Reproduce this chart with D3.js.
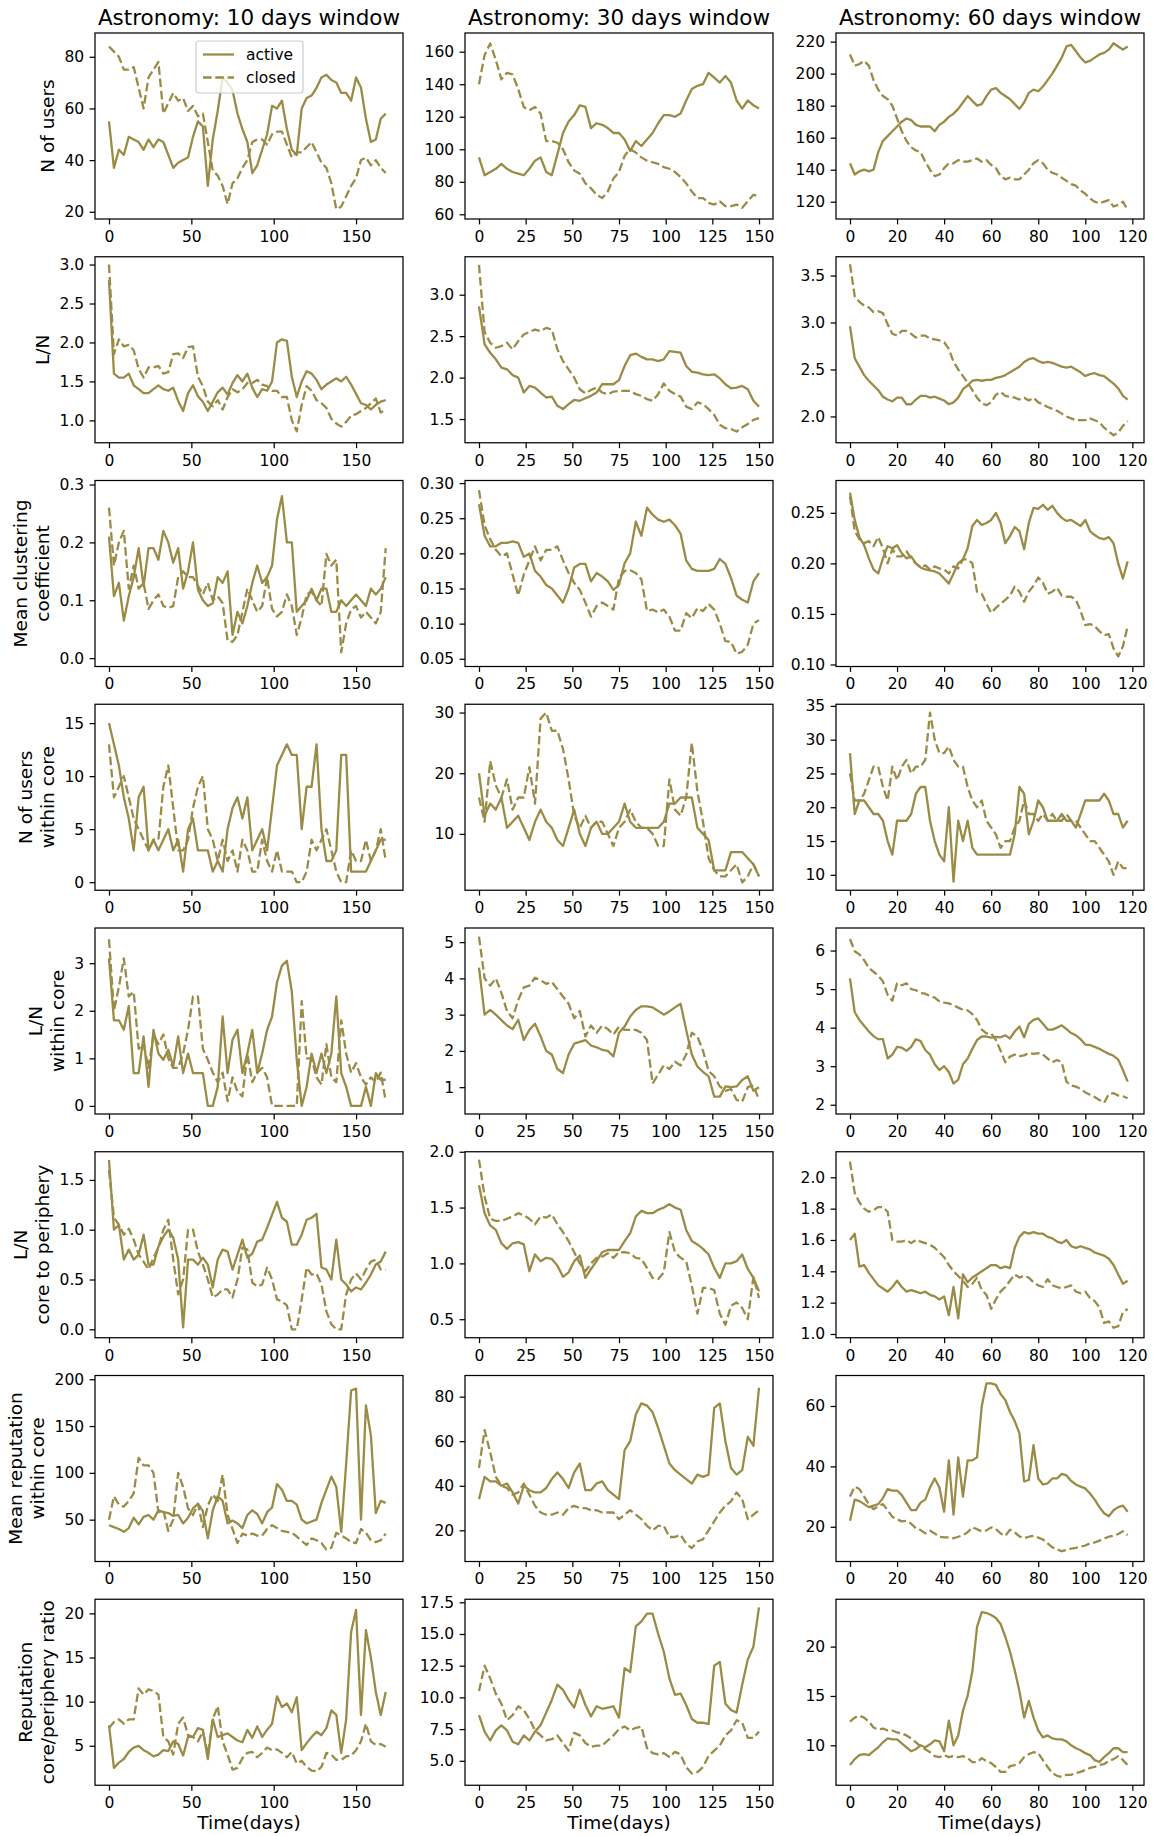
<!DOCTYPE html>
<html>
<head>
<meta charset="utf-8">
<script src="https://cdn.jsdelivr.net/npm/d3@7"></script>
<style>
  html, body { margin: 0; padding: 0; background: #ffffff; }
  svg text { font-family: "DejaVu Sans", sans-serif; }
</style>
</head>
<body>
<svg id="chart" width="1155" height="1836"></svg>
<script>
// ---------------------------------------------------------------
// Sample days for each sliding-window length
// ---------------------------------------------------------------
const days10 = [0,3,6,9,12,15,18,21,24,27,30,33,36,39,42,45,48,51,54,57,60,63,66,69,72,75,78,81,84,87,90,93,96,99,102,105,108,111,114,117,120,123,126,129,132,135,138,141,144,147,150,153,156,159,162,165,168];
const days30 = [0,3,6,9,12,15,18,21,24,27,30,33,36,39,42,45,48,51,54,57,60,63,66,69,72,75,78,81,84,87,90,93,96,99,102,105,108,111,114,117,120,123,126,129,132,135,138,141,144,147,150];
const days60 = [0,2,4,6,8,10,12,14,16,18,20,22,24,26,28,30,32,34,36,38,40,42,44,46,48,50,52,54,56,58,60,62,64,66,68,70,72,74,76,78,80,82,84,86,88,90,92,94,96,98,100,102,104,106,108,110,112,114,116,118];

const windowTitles = ["Astronomy: 10 days window", "Astronomy: 30 days window", "Astronomy: 60 days window"];
const seriesNames = ["active", "closed"];
const xTickLabels = [
  ["0","50","100","150"],
  ["0","25","50","75","100","125","150"],
  ["0","20","40","60","80","100","120"]
];
const xAxisTitle = "Time(days)";

// ---------------------------------------------------------------
// N of users
// ---------------------------------------------------------------
const usersActive10 = [55,37,44,42,49,48,47,44,48,45,48,47,42,37,39,40,41,49,55,53,30,48,59,72,70,67,58,52,47,35,38,44,50,61,60,63,52,44,42,60,64,65,68,72,73,71,70,66,66,63,72,68,56,47,48,56,58];
const usersClosed10 = [84,82,80,75,75,76,68,60,72,75,78,58,62,66,63,64,59,61,57,58,47,36,34,30,23,31,33,37,40,47,48,48,46,50,51,51,46,41,43,43,45,47,43,39,37,31,21,22,26,30,33,40,41,38,40,37,35];
const usersActive30 = [95,84,86,88,91,88,86,85,84,88,93,95,86,84,97,110,117,121,127,126,113,116,115,113,110,110,106,99,105,102,106,110,116,121,121,120,122,130,137,139,140,147,144,141,145,141,130,125,130,127,125];
const usersClosed30 = [140,158,165,155,143,147,146,137,126,124,126,122,105,105,104,100,92,87,85,79,76,72,70,74,82,86,96,100,98,95,93,92,91,89,88,86,83,79,74,70,70,67,66,68,65,65,66,64,68,72,71];
const usersActive60 = [144,137,139,140,139,140,151,158,161,164,167,170,172,171,168,167,167,167,164,168,170,173,175,178,182,186,183,180,181,186,190,191,188,186,184,181,178,182,188,190,189,192,196,200,205,210,217,218,214,210,207,208,210,212,213,215,219,217,215,217];
const usersClosed60 = [212,205,206,208,205,196,190,186,184,180,172,164,158,154,152,151,145,140,136,137,141,144,144,146,145,145,146,147,145,146,143,141,136,134,135,134,134,137,140,144,146,144,140,138,137,135,133,131,130,127,125,122,120,119,120,121,117,118,120,115];
const usersTicks = [["20","40","60","80"], ["60","80","100","120","140","160"], ["120","140","160","180","200","220"]];

// ---------------------------------------------------------------
// L/N
// ---------------------------------------------------------------
const linksActive10 = [2.8,1.6,1.55,1.55,1.6,1.45,1.4,1.35,1.35,1.4,1.45,1.4,1.38,1.42,1.25,1.12,1.35,1.45,1.31,1.24,1.12,1.24,1.36,1.42,1.33,1.48,1.58,1.5,1.6,1.42,1.3,1.4,1.38,1.5,2.0,2.04,2.02,1.56,1.3,1.5,1.63,1.6,1.52,1.4,1.46,1.5,1.54,1.5,1.56,1.46,1.34,1.22,1.2,1.14,1.2,1.24,1.26];
const linksClosed10 = [3.0,1.85,2.04,1.95,1.97,1.9,1.66,1.55,1.68,1.68,1.7,1.6,1.62,1.85,1.86,1.8,1.94,1.95,1.56,1.44,1.24,1.18,1.26,1.14,1.3,1.4,1.36,1.4,1.48,1.48,1.52,1.46,1.44,1.38,1.38,1.3,1.3,1.0,0.86,1.2,1.44,1.38,1.26,1.22,1.16,1.02,0.96,0.92,0.98,1.06,1.08,1.12,1.16,1.22,1.28,1.1,1.14];
const linksActive30 = [2.86,2.4,2.3,2.22,2.12,2.1,2.03,2.0,1.82,1.9,1.88,1.82,1.76,1.77,1.66,1.62,1.68,1.73,1.72,1.75,1.78,1.82,1.92,1.92,1.92,1.97,2.14,2.27,2.29,2.25,2.22,2.22,2.2,2.22,2.32,2.31,2.3,2.14,2.07,2.06,2.04,2.03,2.04,1.99,1.92,1.87,1.88,1.9,1.86,1.72,1.65];
const linksClosed30 = [3.36,2.55,2.42,2.36,2.38,2.42,2.34,2.44,2.52,2.55,2.58,2.56,2.6,2.58,2.34,2.2,2.1,2.0,1.86,1.81,1.85,1.88,1.82,1.8,1.83,1.84,1.84,1.84,1.8,1.78,1.74,1.72,1.8,1.93,1.84,1.8,1.77,1.65,1.62,1.7,1.68,1.62,1.55,1.43,1.39,1.38,1.35,1.4,1.44,1.49,1.51];
const linksActive60 = [2.96,2.62,2.53,2.44,2.38,2.33,2.28,2.21,2.18,2.16,2.2,2.2,2.13,2.13,2.18,2.22,2.22,2.2,2.21,2.19,2.17,2.13,2.15,2.2,2.29,2.33,2.38,2.39,2.38,2.39,2.39,2.41,2.42,2.44,2.47,2.5,2.53,2.58,2.61,2.62,2.59,2.57,2.58,2.57,2.55,2.53,2.52,2.53,2.5,2.47,2.43,2.45,2.46,2.44,2.43,2.39,2.35,2.3,2.22,2.18];
const linksClosed60 = [3.62,3.28,3.22,3.18,3.16,3.11,3.12,3.1,2.98,2.88,2.86,2.91,2.91,2.88,2.84,2.86,2.86,2.83,2.82,2.81,2.79,2.72,2.58,2.5,2.43,2.36,2.28,2.2,2.14,2.12,2.15,2.23,2.26,2.22,2.21,2.2,2.18,2.2,2.17,2.2,2.15,2.13,2.1,2.08,2.06,2.03,2.0,1.98,1.96,1.96,1.96,1.98,1.96,1.94,1.88,1.84,1.8,1.83,1.9,1.95];
const linksTicks = [["1.0","1.5","2.0","2.5","3.0"], ["1.5","2.0","2.5","3.0"], ["2.0","2.5","3.0","3.5"]];

// ---------------------------------------------------------------
// Mean clustering coefficient
// ---------------------------------------------------------------
const clusterActive10 = [0.21,0.107,0.13,0.065,0.107,0.14,0.19,0.124,0.19,0.19,0.17,0.22,0.2,0.165,0.19,0.12,0.15,0.2,0.118,0.1,0.09,0.095,0.14,0.13,0.15,0.04,0.08,0.06,0.09,0.13,0.16,0.13,0.14,0.16,0.24,0.28,0.2,0.2,0.08,0.09,0.1,0.12,0.1,0.12,0.12,0.08,0.08,0.1,0.09,0.1,0.11,0.1,0.09,0.12,0.11,0.12,0.14];
const clusterClosed10 = [0.26,0.16,0.2,0.22,0.12,0.16,0.12,0.13,0.085,0.1,0.11,0.09,0.087,0.09,0.14,0.15,0.14,0.14,0.125,0.11,0.13,0.1,0.107,0.095,0.03,0.028,0.04,0.08,0.12,0.1,0.08,0.09,0.14,0.085,0.072,0.08,0.11,0.09,0.04,0.07,0.11,0.115,0.1,0.09,0.18,0.16,0.17,0.01,0.06,0.084,0.09,0.07,0.08,0.07,0.06,0.08,0.19];
const clusterActive30 = [0.27,0.225,0.21,0.21,0.215,0.215,0.217,0.215,0.195,0.2,0.175,0.167,0.155,0.15,0.14,0.13,0.15,0.18,0.185,0.185,0.16,0.172,0.167,0.16,0.148,0.155,0.186,0.2,0.245,0.225,0.265,0.255,0.248,0.245,0.248,0.24,0.228,0.19,0.178,0.175,0.175,0.175,0.178,0.192,0.185,0.165,0.14,0.134,0.13,0.16,0.172];
const clusterClosed30 = [0.29,0.24,0.22,0.205,0.196,0.2,0.17,0.14,0.17,0.19,0.21,0.19,0.205,0.205,0.21,0.19,0.172,0.158,0.148,0.13,0.11,0.125,0.13,0.125,0.12,0.165,0.175,0.176,0.172,0.163,0.118,0.12,0.116,0.12,0.11,0.09,0.09,0.115,0.108,0.122,0.118,0.128,0.12,0.1,0.075,0.074,0.057,0.06,0.07,0.1,0.105];
const clusterActive60 = [0.27,0.243,0.226,0.218,0.205,0.194,0.19,0.205,0.217,0.215,0.218,0.21,0.205,0.207,0.2,0.196,0.194,0.193,0.192,0.19,0.185,0.18,0.19,0.2,0.204,0.215,0.237,0.243,0.238,0.24,0.243,0.25,0.24,0.22,0.227,0.236,0.232,0.214,0.24,0.255,0.254,0.258,0.253,0.257,0.25,0.245,0.242,0.243,0.24,0.237,0.243,0.232,0.228,0.225,0.224,0.226,0.22,0.2,0.185,0.202];
const clusterClosed60 = [0.266,0.232,0.224,0.22,0.222,0.217,0.226,0.215,0.2,0.214,0.207,0.207,0.212,0.205,0.2,0.196,0.198,0.194,0.197,0.195,0.194,0.19,0.197,0.195,0.204,0.204,0.2,0.172,0.17,0.16,0.151,0.156,0.16,0.164,0.168,0.177,0.172,0.162,0.172,0.178,0.186,0.181,0.17,0.172,0.176,0.168,0.167,0.167,0.164,0.153,0.139,0.14,0.138,0.133,0.129,0.13,0.116,0.108,0.118,0.138];
const clusterTicks = [["0.0","0.1","0.2","0.3"], ["0.05","0.10","0.15","0.20","0.25","0.30"], ["0.10","0.15","0.20","0.25"]];

// ---------------------------------------------------------------
// N of users within core
// ---------------------------------------------------------------
const coreUsersActive10 = [15,13,11,8,6,3,8,9,3,4,3,4,5,3,4,1,5,6,3,3,3,1,2,1,5,7,8,6,8,3,4,5,3,7,11,12,13,12,12,5,9,9,13,5,2,2,3,12,12,1,1,1,1,2,3,4,4];
const coreUsersClosed10 = [13,8,9,10,8,6,5,4,3,4,4,9,11,7,3,3,4,7,9,10,5,4,2,4,2,3,1,4,3,1,1,4,2,1,3,1,1,1,0,0,1,4,3,4,5,3,1,0,0,3,2,2,4,2,3,5,2];
const coreUsersActive30 = [20,13,15,14,16,11,12,13,11,9,12,14,12,11,9,8,11,14,10,8,11,12,10,10,11,12,15,12,11,11,11,11,11,12,15,15,16,16,16,11,10,9,4,4,4,7,7,7,6,5,3];
const coreUsersClosed30 = [16,12,22,18,16,19,14,16,16,21,15,29,30,27,27,24,19,13,11,13,11,12,12,10,8,11,12,14,12,11,11,10,8,8,19,14,13,16,25,17,12,6,4,3,3,4,5,2,3,5,3];
const coreUsersActive60 = [28,19,21,21,20,19,19,18,15,13,18,18,18,19,22,23,23,18,15,13,12,20,9,18,15,18,14,13,13,13,13,13,13,13,13,16,23,22,16,18,21,20,18,18,18,19,18,18,17,19,21,21,21,21,22,21,19,19,17,18];
const coreUsersClosed60 = [25,21,21,22,24,26,26,23,21,26,24,26,27,25,26,26,27,34,30,28,28,29,27,26,26,23,21,20,21,18,17,16,14,15,15,17,18,21,19,19,18,19,18,19,18,18,19,18,18,17,16,15,15,14,13,12,10,12,11,11];
const coreUsersTicks = [["0","5","10","15"], ["10","20","30"], ["10","15","20","25","30","35"]];

// ---------------------------------------------------------------
// L/N within core
// ---------------------------------------------------------------
const coreLinksActive10 = [3.1,1.8,1.8,1.6,2.1,0.69,0.69,1.46,0.4,1.6,1.1,0.97,1.18,0.83,1.46,0.69,1.1,0.69,0.69,0.69,0,0,0.4,1.88,0.69,1.39,1.6,0.69,1.1,1.6,0.69,1.1,1.6,1.88,2.6,2.95,3.05,2.4,0.97,0,0.4,1.1,0.69,1.1,0.69,1.1,2.3,0.69,0.4,0,0,0,0.4,0,0.69,0.55,0.55];
const coreLinksClosed10 = [3.5,2.0,2.5,3.1,2.3,2.4,1.2,1.3,0.8,1.5,1.3,1.5,1.0,0.8,0.8,1.1,1.6,2.3,2.3,1.2,0.97,0.7,0.5,0.7,0.1,0.6,0.3,0.2,1.1,0.5,0.7,0.8,0.6,0,0,0,0,0,0,2.2,1.0,1.0,0.6,0.45,1.3,0.6,0.5,1.8,1.1,0.7,0.9,0.6,0.45,0.6,0.5,0.7,0.1];
const coreLinksActive30 = [4.3,3.0,3.13,3.0,2.85,2.7,2.6,2.86,2.3,2.58,2.75,2.4,2.0,1.9,1.5,1.39,1.9,2.2,2.25,2.3,2.15,2.1,2.03,2.0,1.85,2.5,2.67,2.95,3.13,3.23,3.23,3.2,3.1,3.0,3.09,3.2,3.3,2.58,1.9,1.57,1.42,1.3,0.74,0.74,1.02,1.0,1.02,1.2,1.3,0.9,1.0];
const coreLinksClosed30 = [5.15,4.0,3.8,4.0,3.6,3.1,2.9,3.4,3.75,3.8,4.02,3.95,3.85,3.9,3.7,3.5,3.3,2.9,3.1,2.4,2.7,2.5,2.7,2.6,2.45,2.67,2.58,2.58,2.58,2.5,2.3,1.1,1.35,1.6,1.5,1.7,1.6,1.9,2.5,2.4,2.0,1.45,1.3,1.02,0.9,0.95,0.65,0.6,1.0,1.05,0.65];
const coreLinksActive60 = [5.28,4.4,4.2,4.05,3.9,3.78,3.7,3.7,3.2,3.3,3.5,3.48,3.4,3.5,3.7,3.65,3.42,3.3,3.05,2.9,3.0,2.85,2.55,2.65,3.05,3.2,3.45,3.68,3.77,3.77,3.74,3.76,3.75,3.8,3.72,3.9,4.03,3.75,4.1,4.2,4.24,4.1,3.95,3.95,4.0,4.06,3.96,3.86,3.8,3.7,3.56,3.55,3.5,3.45,3.38,3.32,3.27,3.17,2.9,2.6];
const coreLinksClosed60 = [6.3,5.98,5.9,5.75,5.55,5.45,5.35,5.2,4.85,4.7,5.15,5.1,5.15,5.0,4.97,4.9,4.88,4.82,4.78,4.68,4.65,4.63,4.58,4.52,4.46,4.45,4.35,4.2,3.95,3.85,3.85,3.68,3.4,3.1,3.25,3.3,3.26,3.28,3.34,3.32,3.34,3.3,3.2,3.1,3.16,3.1,2.6,2.5,2.47,2.41,2.32,2.26,2.2,2.12,2.05,2.28,2.3,2.24,2.22,2.17];
const coreLinksTicks = [["0","1","2","3"], ["1","2","3","4","5"], ["2","3","4","5","6"]];

// ---------------------------------------------------------------
// L/N core to periphery
// ---------------------------------------------------------------
const peripheryActive10 = [1.7,1.0,1.05,0.7,0.8,0.7,0.75,0.95,0.65,0.65,0.83,0.93,1.0,0.92,0.7,0.02,0.7,0.7,0.65,0.72,0.65,0.42,0.7,0.8,0.78,0.6,0.75,0.9,0.72,0.76,0.88,0.9,1.02,1.15,1.28,1.12,1.08,0.85,0.85,0.95,1.1,1.12,1.16,0.62,0.6,0.5,0.9,0.5,0.45,0.38,0.42,0.4,0.47,0.55,0.65,0.68,0.78];
const peripheryClosed10 = [1.6,1.12,1.05,0.95,1.01,0.9,0.75,0.68,0.6,0.72,0.82,1.0,1.1,0.7,0.35,0.5,1.0,1.0,0.78,0.65,0.5,0.32,0.35,0.4,0.4,0.32,0.5,0.82,0.8,0.47,0.43,0.45,0.62,0.5,0.3,0.28,0.24,0,0,0.3,0.62,0.55,0.56,0.45,0.18,0.05,0,0,0.35,0.5,0.56,0.5,0.6,0.68,0.7,0.6,0.6];
const peripheryActive30 = [1.7,1.45,1.34,1.3,1.18,1.13,1.18,1.19,1.17,0.93,1.08,1.02,1.05,1.04,0.98,0.88,0.92,1.02,1.07,0.87,0.95,1.02,1.1,1.12,1.12,1.12,1.2,1.27,1.42,1.47,1.45,1.45,1.48,1.5,1.53,1.5,1.48,1.3,1.2,1.17,1.13,1.08,0.96,0.87,1.0,1.0,1.02,1.08,0.95,0.87,0.75];
const peripheryClosed30 = [1.93,1.6,1.4,1.38,1.38,1.4,1.42,1.45,1.43,1.4,1.35,1.42,1.41,1.44,1.35,1.28,1.2,1.1,1.0,0.93,1.0,1.05,1.06,1.09,1.05,1.1,1.1,1.09,1.05,1.04,0.96,0.87,0.86,0.92,1.28,1.1,1.05,1.02,0.8,0.55,0.78,0.78,0.76,0.55,0.45,0.62,0.65,0.6,0.5,0.88,0.69];
const peripheryActive60 = [1.6,1.64,1.43,1.44,1.39,1.35,1.31,1.29,1.27,1.3,1.34,1.3,1.27,1.28,1.27,1.26,1.27,1.25,1.24,1.22,1.24,1.12,1.3,1.1,1.38,1.33,1.36,1.38,1.4,1.42,1.44,1.44,1.42,1.43,1.42,1.55,1.62,1.65,1.64,1.65,1.64,1.64,1.62,1.61,1.59,1.58,1.6,1.56,1.55,1.56,1.55,1.54,1.52,1.51,1.5,1.48,1.44,1.38,1.32,1.34];
const peripheryClosed60 = [2.1,1.9,1.84,1.8,1.78,1.79,1.81,1.81,1.78,1.6,1.59,1.59,1.6,1.58,1.6,1.59,1.58,1.57,1.55,1.52,1.49,1.44,1.4,1.37,1.34,1.3,1.32,1.36,1.28,1.25,1.16,1.22,1.27,1.3,1.34,1.38,1.36,1.37,1.36,1.33,1.31,1.3,1.35,1.31,1.3,1.29,1.3,1.31,1.27,1.26,1.27,1.23,1.21,1.17,1.07,1.08,1.04,1.05,1.14,1.16];
const peripheryTicks = [["0.0","0.5","1.0","1.5"], ["0.5","1.0","1.5","2.0"], ["1.0","1.2","1.4","1.6","1.8","2.0"]];

// ---------------------------------------------------------------
// Mean reputation within core
// ---------------------------------------------------------------
const reputationActive10 = [44,42,40,37,41,52,45,53,55,50,60,58,57,54,55,46,52,62,67,59,30,60,75,70,46,49,46,41,55,60,56,46,58,63,88,82,70,70,66,50,46,48,50,68,82,96,85,37,110,188,190,50,172,140,57,70,68];
const reputationClosed10 = [50,75,66,64,70,78,116,108,108,100,58,60,38,50,100,85,62,55,67,42,65,77,70,98,55,40,25,35,33,35,33,33,40,44,41,38,37,36,32,27,23,30,28,25,18,20,36,33,30,26,25,40,36,28,26,28,35];
const reputationActive30 = [34,44,42,42,40,41,37,32,40,38,37,37,39,43,46,43,39,46,50,38,38,41,42,38,36,34,56,60,72,77,76,73,66,58,50,47,45,43,41,45,44,45,75,77,60,48,45,47,62,58,84];
const reputationClosed30 = [48,65,55,44,40,39,36,37,41,36,31,28,27,27,28,27,30,31,30,30,29,29,28,28,28,25,27,29,27,25,22,20,22,22,17,17,18,14,12,15,16,20,24,28,31,33,37,34,25,27,29];
const reputationActive60 = [22,29,28.5,27.5,26.5,27,27.5,29.5,32.5,32,32,30.5,28,25.5,25.5,28,29,33,36,33,25,42,24,43,30,42,42,43,60,67.5,67.5,67,64,62,58,55,51,35,35.5,47,36,34,34.4,36,36,37.5,37,35.2,34,33.3,32.7,31,29,26.5,24.5,23.5,25.5,26.5,27,25];
const reputationClosed60 = [30,33.3,32.5,30,27.5,25.8,26.8,27.5,25.5,23.3,22.5,21.8,22,21,19.5,18.9,17.8,18.7,17.8,16.7,16.5,16.5,16.2,16.7,17.2,18.2,19.8,19.2,18.5,18.8,19.8,19.2,17.8,17,19,18.2,16.8,16.2,16.7,17,16.4,15.8,14.5,13.2,12.5,11.9,12.3,12.8,13,13.4,13.8,14.5,14.8,15.4,16.1,16.7,17,17.6,18.5,17.2];
const reputationTicks = [["50","100","150","200"], ["20","40","60","80"], ["20","40","60"]];

// ---------------------------------------------------------------
// Reputation core/periphery ratio
// ---------------------------------------------------------------
const ratioActive10 = [7.3,2.5,3.1,3.5,4.3,4.8,5.0,4.5,4.2,3.8,4.0,4.5,4.4,5.5,5.2,3.9,6.0,6.0,7.0,6.8,3.5,8.0,6.0,6.2,6.4,6.0,5.6,5.4,6.8,5.9,7.2,6.0,6.8,7.5,10.6,9.4,9.8,8.8,10.5,4.5,5.3,6.0,6.6,6.2,7.0,9.0,8.5,4.2,8.0,17.9,20.4,8.5,18.1,15.0,11.1,8.5,11.1];
const ratioClosed10 = [7,7.7,8,7.5,8,8,11.5,10.8,11.4,11.2,10.8,6,5.5,4,7.5,8.2,6.2,6,5.5,6.6,4,8,9.5,5.5,4,2.3,2.5,3.6,4.2,4.3,3.7,4.2,4.8,4.5,4.6,4.2,3.7,4.3,3,3.3,2.6,2.2,2.1,2.6,4.2,4.0,3.4,3.4,3.8,3.9,4.5,5.5,7.5,5.5,5.1,5.2,4.9];
const ratioActive30 = [8.6,7.3,6.6,7.4,7.8,7.4,6.5,6.3,7.0,6.6,7.3,7.8,8.8,9.8,11.0,10.6,9.8,9.2,10.6,9.4,8.5,9.3,9.1,9.2,9.3,8.4,12.3,12.0,15.6,16.0,16.6,16.6,15.0,13.6,11.5,10.2,10.3,9.4,8.3,8.0,8.0,7.9,12.5,12.8,9.5,9.0,8.8,11.0,13.0,14.0,17.1];
const ratioClosed30 = [10.5,12.5,11.5,10.3,9.5,8.2,8.6,9.3,9.0,8.3,7.4,7.0,6.6,6.7,7.0,6.4,5.8,7.2,7.0,6.4,6.1,6.2,6.2,6.6,7.0,7.5,7.7,7.4,7.6,7.7,6.0,5.6,5.5,5.6,5.3,5.7,5.5,4.5,4.0,4.1,4.5,5.4,5.8,6.2,7.0,7.4,8.2,8.0,6.8,6.8,7.3];
const ratioActive60 = [8.0,8.6,9.0,9.1,9.0,9.4,9.8,10.3,10.7,10.6,10.6,10.2,9.8,9.4,9.6,10.0,9.8,10.1,10.5,10.4,9.4,12.5,10.0,11.0,13.5,15.0,17.5,22.0,23.5,23.4,23.2,22.9,22.3,21.0,19.5,17.6,15.5,12.8,14.5,12.8,11.5,10.8,11.0,10.7,10.6,10.6,10.4,10.0,9.7,9.5,9.2,9.0,8.5,8.3,8.8,9.2,9.7,9.7,9.3,9.3];
const ratioClosed60 = [12.4,12.8,13.0,12.8,12.4,11.8,11.6,11.7,11.5,11.5,11.3,11.2,11.0,10.7,10.3,9.9,9.6,9.3,8.9,8.8,9.0,8.8,8.9,8.8,8.9,8.7,8.3,8.3,8.7,8.4,8.2,7.8,7.3,7.3,7.9,8.0,8.2,8.8,9.1,9.3,9.2,8.5,7.8,7.2,6.9,6.8,7.0,7.0,7.2,7.3,7.5,7.7,7.8,8.0,8.1,8.4,8.6,8.9,8.5,8.0];
const ratioTicks = [["5","10","15","20"], ["5.0","7.5","10.0","12.5","15.0","17.5"], ["10","15","20"]];

// ---------------------------------------------------------------
// Layout and style
// ---------------------------------------------------------------
const layout = {
  colLeft: [95, 465, 836],
  panelW: 308,
  rowTop: 33,
  rowStep: 223.75,
  panelH: 186,
  xExtent: [[-8.5, 178.5], [-7.5, 157.5], [-5.95, 124.95]]
};
// Visible y-range of each row (one entry per window column)
const yExtent = [
  [[17.2, 89.2], [57.1, 171.5], [109.2, 225.4]],
  [[0.713, 3.10], [1.214, 3.458], [1.72, 3.70]],
  [[-0.0145, 0.307], [0.039, 0.3037], [0.098, 0.282]],
  [[-0.76, 16.78], [0.71, 31.37], [7.72, 35.24]],
  [[-0.17, 3.74], [0.26, 5.39], [1.76, 6.585]],
  [[-0.085, 1.783], [0.334, 2.0], [0.976, 2.163]],
  [[5.3, 204], [6.0, 89.5], [8.5, 70.1]],
  [[0.53, 21.6], [3.07, 17.74], [5.95, 24.8]]
];
const style = {
  color: "#9a8b46",
  lineWidth: 2.3,
  dash: "8.6,3.7",
  tickFont: 15.5,
  labelFont: 18.5,
  titleFont: 21.5,
  tickLen: 5.4,
  tickPad: 5.4,
  spine: 1.24
};

// Rows of the grid, built from the named arrays above
const daysByWindow = [days10, days30, days60];
const rows = [
  { label: ["N of users"], active: [usersActive10, usersActive30, usersActive60], closed: [usersClosed10, usersClosed30, usersClosed60], ticks: usersTicks },
  { label: ["L/N"], active: [linksActive10, linksActive30, linksActive60], closed: [linksClosed10, linksClosed30, linksClosed60], ticks: linksTicks },
  { label: ["Mean clustering", "coefficient"], active: [clusterActive10, clusterActive30, clusterActive60], closed: [clusterClosed10, clusterClosed30, clusterClosed60], ticks: clusterTicks },
  { label: ["N of users", "within core"], active: [coreUsersActive10, coreUsersActive30, coreUsersActive60], closed: [coreUsersClosed10, coreUsersClosed30, coreUsersClosed60], ticks: coreUsersTicks },
  { label: ["L/N", "within core"], active: [coreLinksActive10, coreLinksActive30, coreLinksActive60], closed: [coreLinksClosed10, coreLinksClosed30, coreLinksClosed60], ticks: coreLinksTicks },
  { label: ["L/N", "core to periphery"], active: [peripheryActive10, peripheryActive30, peripheryActive60], closed: [peripheryClosed10, peripheryClosed30, peripheryClosed60], ticks: peripheryTicks },
  { label: ["Mean reputation", "within core"], active: [reputationActive10, reputationActive30, reputationActive60], closed: [reputationClosed10, reputationClosed30, reputationClosed60], ticks: reputationTicks },
  { label: ["Reputation", "core/periphery ratio"], active: [ratioActive10, ratioActive30, ratioActive60], closed: [ratioClosed10, ratioClosed30, ratioClosed60], ticks: ratioTicks }
];

// ---------------------------------------------------------------
// Drawing
// ---------------------------------------------------------------
const svg = d3.select("#chart");
svg.append("rect").attr("width", 1155).attr("height", 1836).attr("fill", "#ffffff");
const defs = svg.append("defs");

function styleAxis(g) {
  g.attr("font-size", style.tickFont).attr("font-family", "DejaVu Sans, sans-serif");
  g.select(".domain").remove();
  g.selectAll(".tick line").attr("stroke", "#000").attr("stroke-width", style.spine);
  g.selectAll(".tick text").attr("fill", "#000");
}

rows.forEach((row, r) => {
  const top = layout.rowTop + r * layout.rowStep;
  const bottom = top + layout.panelH;

  for (let c = 0; c < 3; c++) {
    const left = layout.colLeft[c];
    const right = left + layout.panelW;
    const days = daysByWindow[c];

    const x = d3.scaleLinear().domain(layout.xExtent[c]).range([left, right]);
    const y = d3.scaleLinear().domain(yExtent[r][c]).range([bottom, top]);

    const clipId = `clip-${r}-${c}`;
    defs.append("clipPath").attr("id", clipId)
      .append("rect").attr("x", left).attr("y", top).attr("width", layout.panelW).attr("height", layout.panelH);

    const panel = svg.append("g");

    // series lines
    const line = d3.line().x((d, i) => x(days[i])).y(d => y(d));
    const plot = panel.append("g").attr("clip-path", `url(#${clipId})`);
    plot.append("path")
      .datum(row.active[c])
      .attr("d", line)
      .attr("fill", "none")
      .attr("stroke", style.color)
      .attr("stroke-width", style.lineWidth)
      .attr("stroke-linejoin", "round");
    plot.append("path")
      .datum(row.closed[c])
      .attr("d", line)
      .attr("fill", "none")
      .attr("stroke", style.color)
      .attr("stroke-width", style.lineWidth)
      .attr("stroke-linejoin", "round")
      .attr("stroke-dasharray", style.dash);

    // x axis
    const xLabels = xTickLabels[c];
    panel.append("g")
      .attr("transform", `translate(0,${bottom})`)
      .call(d3.axisBottom(x)
        .tickValues(xLabels.map(Number))
        .tickFormat((d, i) => xLabels[i])
        .tickSize(style.tickLen)
        .tickPadding(style.tickPad + 1)
        .tickSizeOuter(0))
      .call(styleAxis);

    // y axis
    const yLabels = row.ticks[c];
    const yAxisG = panel.append("g")
      .attr("transform", `translate(${left},0)`)
      .call(d3.axisLeft(y)
        .tickValues(yLabels.map(Number))
        .tickFormat((d, i) => yLabels[i])
        .tickSize(style.tickLen)
        .tickPadding(style.tickPad)
        .tickSizeOuter(0))
      .call(styleAxis);

    // frame
    panel.append("rect")
      .attr("x", left).attr("y", top)
      .attr("width", layout.panelW).attr("height", layout.panelH)
      .attr("fill", "none").attr("stroke", "#000").attr("stroke-width", style.spine);

    // y label (first column only)
    if (c === 0) {
      const bb = yAxisG.node().getBBox();
      const labelRight = left + bb.x - 6.2;
      const n = row.label.length;
      const lineH = style.labelFont * 1.2;
      const descent = style.labelFont * 0.236;
      const t = panel.append("text")
        .attr("transform", `translate(${labelRight},${(top + bottom) / 2}) rotate(-90)`)
        .attr("text-anchor", "middle")
        .attr("font-size", style.labelFont)
        .attr("fill", "#000");
      row.label.forEach((txt, i) => {
        t.append("tspan").attr("x", 0).attr("y", -descent - (n - 1 - i) * lineH).text(txt);
      });
    }

    // column titles
    if (r === 0) {
      svg.append("text")
        .attr("x", (left + right) / 2).attr("y", 25)
        .attr("text-anchor", "middle")
        .attr("font-size", style.titleFont)
        .attr("fill", "#000")
        .text(windowTitles[c]);
    }

    // x axis title
    if (r === rows.length - 1) {
      svg.append("text")
        .attr("x", (left + right) / 2).attr("y", 1829)
        .attr("text-anchor", "middle")
        .attr("font-size", style.labelFont)
        .attr("fill", "#000")
        .text(xAxisTitle);
    }

    // legend in the first panel
    if (r === 0 && c === 0) {
      const lg = svg.append("g");
      lg.append("rect")
        .attr("x", 196).attr("y", 41).attr("width", 107).attr("height", 52)
        .attr("rx", 3).attr("fill", "#ffffff").attr("fill-opacity", 0.8)
        .attr("stroke", "#cccccc").attr("stroke-width", 1.2);
      seriesNames.forEach((name, i) => {
        const ly = 54.5 + i * 23;
        lg.append("line")
          .attr("x1", 203).attr("x2", 234).attr("y1", ly).attr("y2", ly)
          .attr("stroke", style.color).attr("stroke-width", style.lineWidth)
          .attr("stroke-dasharray", i === 1 ? style.dash : null);
        lg.append("text")
          .attr("x", 246).attr("y", ly + 5.5)
          .attr("font-size", style.tickFont)
          .attr("fill", "#000")
          .text(name);
      });
    }
  }
});
</script>
</body>
</html>
